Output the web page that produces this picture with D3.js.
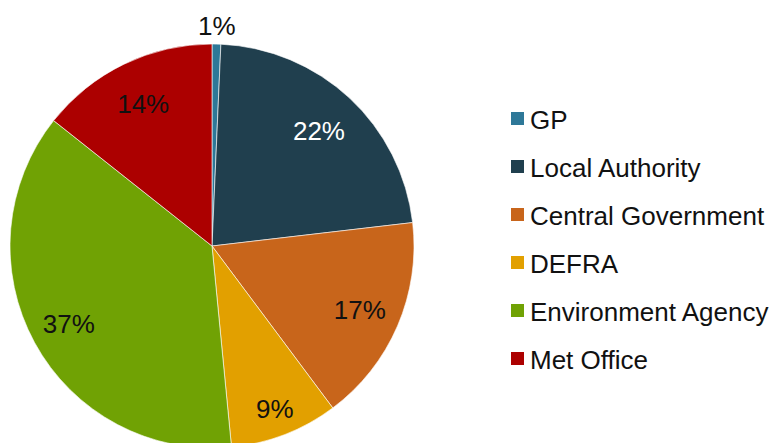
<!DOCTYPE html>
<html>
<head>
<meta charset="utf-8">
<script src="https://cdn.jsdelivr.net/npm/d3@7"></script>
<style>
  body { margin: 0; background: #fff; }
  text { font-family: "Liberation Sans", Arial, sans-serif; }
</style>
</head>
<body>
<script>
// Data
const categories = ["GP", "Local Authority", "Central Government", "DEFRA", "Environment Agency", "Met Office"];
const shares = [0.7, 22.45, 16.65, 8.66, 37.2, 14.34];
const labels = ["1%", "22%", "17%", "9%", "37%", "14%"];
const colors = ["#2e7898", "#203f4e", "#c8651b", "#e2a000", "#70a204", "#ac0000"];
const labelColors = ["#111", "#fff", "#111", "#111", "#111", "#111"];
// how far out each slice label sits (best-fit placement)
const labelRadius = [220, 157, 161, 174, 163, 158];

const width = 779;
const height = 443;
const cx = 212, cy = 246, radius = 202;

const svg = d3.select("body")
    .append("svg")
    .attr("width", width)
    .attr("height", height);

const data = categories.map((c, i) => ({ name: c, value: shares[i], label: labels[i], i }));

const pie = d3.pie()
    .value(d => d.value)
    .sort(null);

const arc = d3.arc()
    .innerRadius(0)
    .outerRadius(radius);

const g = svg.append("g").attr("transform", `translate(${cx},${cy})`);

const arcs = pie(data);

g.selectAll("path")
    .data(arcs)
    .enter()
    .append("path")
    .attr("d", arc)
    .attr("fill", d => colors[d.data.i])
    .attr("stroke", "#fff")
    .attr("stroke-width", 0.6);

// slice labels
g.selectAll("text.lbl")
    .data(arcs)
    .enter()
    .append("text")
    .attr("class", "lbl")
    .attr("transform", d => {
        const r = labelRadius[d.data.i];
        const c = d3.arc().innerRadius(r).outerRadius(r).centroid(d);
        return `translate(${c[0]},${c[1]})`;
    })
    .attr("text-anchor", "middle")
    .attr("dy", "0.36em")
    .attr("font-size", 26)
    .attr("fill", d => labelColors[d.data.i])
    .text(d => d.data.label);

// Legend
const legend = svg.append("g").attr("transform", "translate(511,0)");

const rowY = d3.scalePoint()
    .domain(categories)
    .range([120, 360]);

const rows = legend.selectAll("g")
    .data(categories)
    .enter()
    .append("g")
    .attr("transform", d => `translate(0,${rowY(d)})`);

rows.append("rect")
    .attr("x", 0)
    .attr("y", -8)
    .attr("width", 13)
    .attr("height", 13)
    .attr("fill", (d, i) => colors[i]);

rows.append("text")
    .attr("x", 19)
    .attr("y", 9)
    .attr("font-size", 26)
    .attr("fill", "#111")
    .text(d => d);
</script>
</body>
</html>
